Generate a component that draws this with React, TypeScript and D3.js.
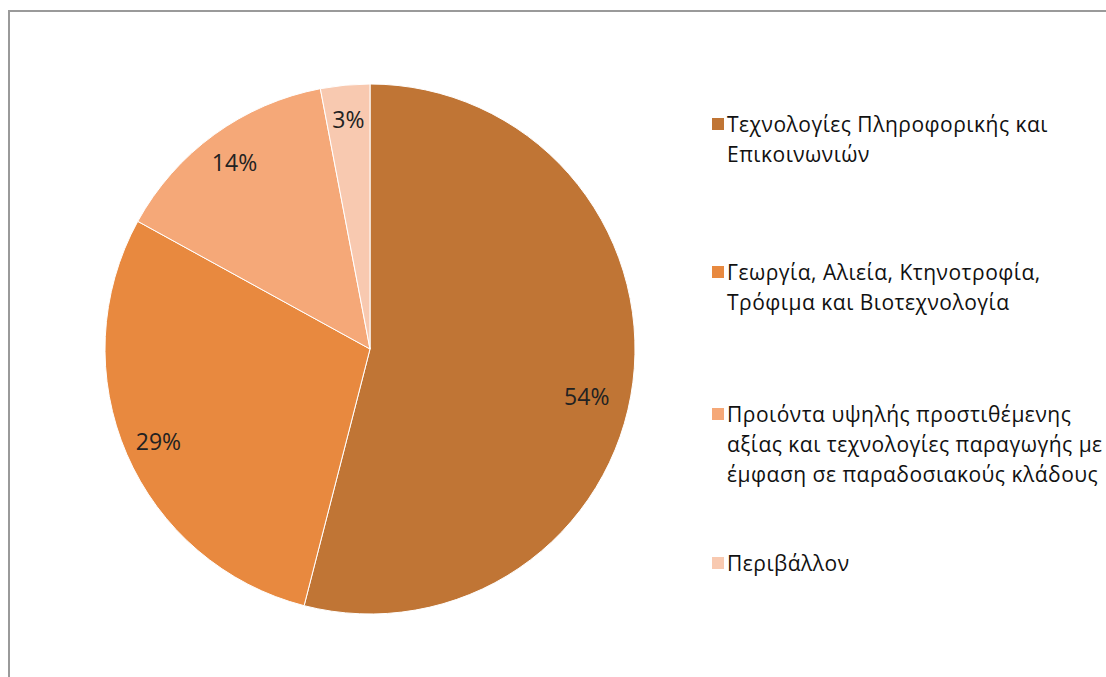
import React, { useEffect, useRef } from 'react'
import * as d3 from 'd3'

const categories = [
  'Τεχνολογίες Πληροφορικής και Επικοινωνιών',
  'Γεωργία, Αλιεία, Κτηνοτροφία, Τρόφιμα και Βιοτεχνολογία',
  'Προιόντα υψηλής προστιθέμενης αξίας και τεχνολογίες παραγωγής με έμφαση σε παραδοσιακούς κλάδους',
  'Περιβάλλον',
]
const legendLines = [
  ['Τεχνολογίες Πληροφορικής και', 'Επικοινωνιών'],
  ['Γεωργία, Αλιεία, Κτηνοτροφία,', 'Τρόφιμα και Βιοτεχνολογία'],
  ['Προιόντα υψηλής προστιθέμενης', 'αξίας και τεχνολογίες παραγωγής με', 'έμφαση σε παραδοσιακούς κλάδους'],
  ['Περιβάλλον'],
]
const values = [54, 29, 14, 3]
const colors = ['#C07535', '#E8893F', '#F5A878', '#F8C9B0']

export default function App() {
  const ref = useRef<HTMLDivElement | null>(null)

  useEffect(() => {
    const container = d3.select(ref.current!)
    container.selectAll('*').remove()
    const width = 1106
    const height = 677
    const font = '"Open Sans", "Noto Sans", sans-serif'
    const svg = container.append('svg')
      .attr('width', width).attr('height', height)
      .style('position', 'absolute').style('left', '0px').style('top', '0px')
      .style('background', '#fff')

    // chart area border (right/bottom edges fall outside the picture)
    svg.append('rect').attr('x', 9).attr('y', 11).attr('width', 1200).attr('height', 800)
      .attr('fill', '#fff').attr('stroke', '#9a9a9a').attr('stroke-width', 2)

    const cx = 370, cy = 349, r = 265
    const pie = d3.pie<number>().sort(null).value(d => d)
    const arcs = pie(values)
    const arc = d3.arc<d3.PieArcDatum<number>>().innerRadius(0).outerRadius(r)
    const labelArc = d3.arc<d3.PieArcDatum<number>>().innerRadius(r * 0.87).outerRadius(r * 0.87)

    const g = svg.append('g').attr('transform', `translate(${cx},${cy})`)
    g.selectAll('path').data(arcs).enter().append('path')
      .attr('d', arc)
      .attr('fill', (_, i) => colors[i])
      .attr('stroke', '#fff').attr('stroke-width', 1)

    g.selectAll('text').data(arcs).enter().append('text')
      .attr('transform', (d, i) => {
        const [x, y] = labelArc.centroid(d)
        return i === 0 ? `translate(${x - 12},${y + 18})` : `translate(${x},${y})`
      })
      .attr('text-anchor', 'middle').attr('dominant-baseline', 'central')
      .attr('font-family', font).attr('font-size', 23).attr('fill', '#222')
      .text(d => `${d.data}%`)

    const legendY = [124, 272, 414, 563]
    const lg = svg.append('g')
    categories.forEach((c, i) => {
      const item = lg.append('g').attr('transform', `translate(712,${legendY[i]})`)
      item.append('title').text(c)
      item.append('rect').attr('x', 0).attr('y', -6).attr('width', 12).attr('height', 12).attr('fill', colors[i])
      legendLines[i].forEach((line, j) => {
        item.append('text').attr('x', 15).attr('y', j * 30)
          .attr('dominant-baseline', 'central')
          .attr('font-family', font).attr('font-size', 21).attr('fill', '#111')
          .attr('letter-spacing', 0.5)
          .text(line)
      })
    })
  }, [])

  return <div ref={ref} />
}
